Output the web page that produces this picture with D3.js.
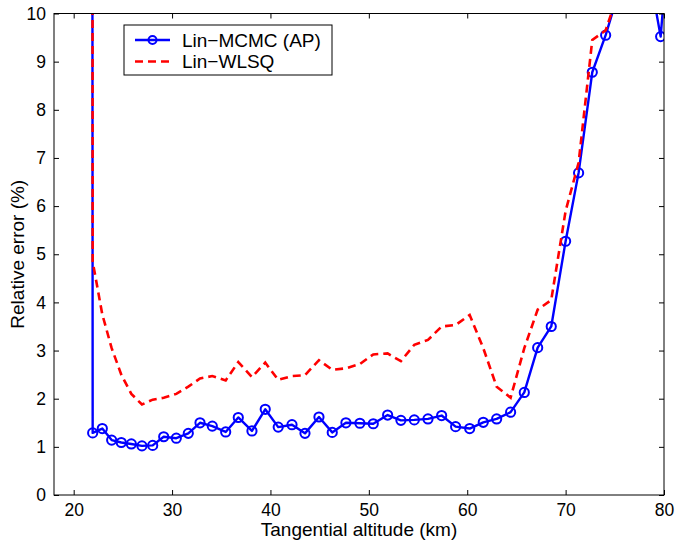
<!DOCTYPE html>
<html>
<head>
<meta charset="utf-8">
<script src="https://cdn.jsdelivr.net/npm/d3@7"></script>
<style>
  html, body { margin: 0; padding: 0; background: #fff; }
  svg { display: block; font-family: "Liberation Sans", Arial, Helvetica, sans-serif; }
</style>
</head>
<body>
<div id="chart"></div>
<script>
// Tangential altitudes (km) shared by both retrievals
const altitude = [20.9, 21.93, 22.91, 23.86, 24.84, 25.86, 26.94, 28.03, 29.15, 30.43,
  31.65, 32.84, 34.09, 35.45, 36.73, 38.12, 39.47, 40.79, 42.19, 43.51,
  44.93, 46.28, 47.67, 49.09, 50.45, 51.91, 53.26, 54.62, 56.01, 57.40,
  58.82, 60.25, 61.63, 62.99, 64.41, 65.80, 67.16, 68.54, 70.00, 71.32,
  72.71, 74.07, 75.47, 76.88, 78.28, 79.66, 81.05];

// Relative error (%) - Lin-MCMC (AP)
const mcmc = [400, 1.29, 1.38, 1.14, 1.09, 1.06, 1.02, 1.03, 1.21, 1.18,
  1.28, 1.50, 1.43, 1.31, 1.61, 1.33, 1.78, 1.41, 1.46, 1.28,
  1.62, 1.30, 1.50, 1.49, 1.48, 1.66, 1.55, 1.56, 1.58, 1.65,
  1.42, 1.38, 1.51, 1.58, 1.72, 2.13, 3.06, 3.50, 5.27, 6.69,
  8.78, 9.55, 10.5, 12.0, 11.1, 9.52, 13.0];

// Relative error (%) - Lin-WLSQ
const wlsq = [400, 4.85, 3.75, 3.05, 2.50, 2.10, 1.88, 1.98, 2.02, 2.10,
  2.25, 2.42, 2.47, 2.38, 2.76, 2.45, 2.75, 2.39, 2.47, 2.49,
  2.80, 2.60, 2.63, 2.72, 2.92, 2.94, 2.78, 3.12, 3.22, 3.50,
  3.53, 3.74, 3.05, 2.25, 2.02, 3.05, 3.85, 4.05, 5.90, 6.90,
  9.45, 9.65, 10.5, null, null, null, null];

const xTicks = [20, 30, 40, 50, 60, 70, 80];
const yTicks = [0, 1, 2, 3, 4, 5, 6, 7, 8, 9, 10];
const seriesNames = ['Lin\u2212MCMC (AP)', 'Lin\u2212WLSQ'];

const width = 677, height = 541;
const margin = { left: 54, right: 13, top: 13.5, bottom: 46 };

const svg = d3.select('#chart').append('svg')
  .attr('width', width)
  .attr('height', height);

const x = d3.scaleLinear().domain([18, 80]).range([margin.left, width - margin.right]);
const y = d3.scaleLinear().domain([0, 10]).range([height - margin.bottom, margin.top]);

// clip to the axes box
svg.append('clipPath').attr('id', 'clip')
  .append('rect')
  .attr('x', x.range()[0]).attr('y', y.range()[1])
  .attr('width', x.range()[1] - x.range()[0])
  .attr('height', y.range()[0] - y.range()[1]);

const plot = svg.append('g').attr('clip-path', 'url(#clip)');

const pts = (vals) => altitude.map((a, i) => ({ a, v: vals[i] }));

const line = d3.line()
  .defined(d => d.v != null)
  .x(d => x(d.a))
  .y(d => y(d.v));

// MCMC line + circle markers
plot.append('path')
  .datum(pts(mcmc))
  .attr('fill', 'none')
  .attr('stroke', '#0000ff')
  .attr('stroke-width', 2.4)
  .attr('stroke-linejoin', 'round')
  .attr('d', line);

plot.selectAll('circle.mk')
  .data(pts(mcmc))
  .join('circle')
  .attr('class', 'mk')
  .attr('cx', d => x(d.a))
  .attr('cy', d => y(d.v))
  .attr('r', 4.6)
  .attr('fill', 'none')
  .attr('stroke', '#0000ff')
  .attr('stroke-width', 2);

// WLSQ dashed line
plot.append('path')
  .datum(pts(wlsq))
  .attr('fill', 'none')
  .attr('stroke', '#ff0000')
  .attr('stroke-width', 2.6)
  .attr('stroke-dasharray', '8,5')
  .attr('d', line);

// Axes box with inward ticks (top/right mirrored)
const axesG = svg.append('g');
const tickLen = 5;
const x0 = x.range()[0], x1 = x.range()[1];
const y0 = y.range()[0], y1 = y.range()[1];

axesG.append('rect')
  .attr('x', x0).attr('y', y1)
  .attr('width', x1 - x0).attr('height', y0 - y1)
  .attr('fill', 'none')
  .attr('stroke', '#000')
  .attr('stroke-width', 1);

const xAxis = d3.axisBottom(x).tickValues(xTicks).tickSizeInner(-tickLen).tickSizeOuter(0).tickPadding(9);
const yAxis = d3.axisLeft(y).tickValues(yTicks).tickSizeInner(-tickLen).tickSizeOuter(0).tickPadding(8);

const gx = axesG.append('g').attr('transform', `translate(0,${y0})`).call(xAxis);
const gy = axesG.append('g').attr('transform', `translate(${x0},0)`).call(yAxis);
const gxt = axesG.append('g').attr('transform', `translate(0,${y1})`)
  .call(d3.axisTop(x).tickValues(xTicks).tickSizeInner(-tickLen).tickSizeOuter(0).tickFormat(''));
const gyr = axesG.append('g').attr('transform', `translate(${x1},0)`)
  .call(d3.axisRight(y).tickValues(yTicks).tickSizeInner(-tickLen).tickSizeOuter(0).tickFormat(''));

[gx, gy, gxt, gyr].forEach(g => {
  g.select('.domain').remove();
  g.selectAll('.tick line').attr('stroke', '#000');
  g.selectAll('.tick text').attr('fill', '#000').attr('font-size', 17.5);
});

// Axis labels
svg.append('text')
  .attr('x', (x0 + x1) / 2)
  .attr('y', 536)
  .attr('text-anchor', 'middle')
  .attr('font-size', 19)
  .text('Tangential altitude (km)');

svg.append('text')
  .attr('transform', `translate(24,${(y0 + y1) / 2}) rotate(-90)`)
  .attr('text-anchor', 'middle')
  .attr('font-size', 19)
  .text('Relative error (%)');

// Legend
const legend = svg.append('g').attr('transform', 'translate(124,25)');
legend.append('rect')
  .attr('width', 208).attr('height', 50)
  .attr('fill', '#fff')
  .attr('stroke', '#000')
  .attr('stroke-width', 1);

const rowY = [15, 36.5];
legend.append('line')
  .attr('x1', 11).attr('x2', 46).attr('y1', rowY[0]).attr('y2', rowY[0])
  .attr('stroke', '#0000ff').attr('stroke-width', 2.4);
legend.append('circle')
  .attr('cx', 28.5).attr('cy', rowY[0]).attr('r', 4)
  .attr('fill', 'none').attr('stroke', '#0000ff').attr('stroke-width', 2);
legend.append('line')
  .attr('x1', 11).attr('x2', 46).attr('y1', rowY[1]).attr('y2', rowY[1])
  .attr('stroke', '#ff0000').attr('stroke-width', 2.6)
  .attr('stroke-dasharray', '8,5');

legend.selectAll('text.lab')
  .data(seriesNames)
  .join('text')
  .attr('class', 'lab')
  .attr('x', 58)
  .attr('y', (d, i) => rowY[i])
  .attr('dy', '0.36em')
  .attr('font-size', 19)
  .text(d => d);
</script>
</body>
</html>
